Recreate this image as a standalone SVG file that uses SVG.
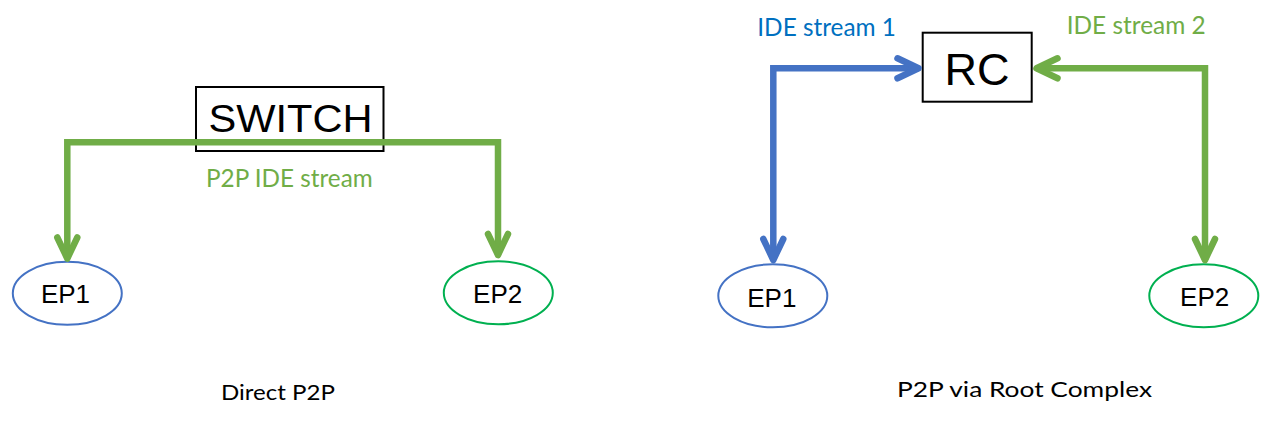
<svg xmlns="http://www.w3.org/2000/svg" width="1265" height="421" viewBox="0 0 1265 421">
<style>
.box{fill:#fff;stroke:#000;stroke-width:2}
.ep{fill:#fff;stroke-width:2}
.lbl{font-family:"Liberation Sans",Arial,sans-serif;fill:#000;text-anchor:middle}
.cap{font-family:Lato,"Open Sans",sans-serif}
.conn{fill:none;stroke-width:6.5;stroke-linejoin:miter}
.green{stroke:#70AD47}
.blue{stroke:#4472C4}
</style>
<defs>
<marker id="ag" markerUnits="userSpaceOnUse" orient="auto-start-reverse" refX="0" refY="0" markerWidth="40" markerHeight="40" overflow="visible">
<path d="M -21 -10 L 0 0 L -21 10" fill="none" stroke="#70AD47" stroke-width="6.5" stroke-linecap="round" stroke-linejoin="round"/>
</marker>
<marker id="ab" markerUnits="userSpaceOnUse" orient="auto-start-reverse" refX="0" refY="0" markerWidth="40" markerHeight="40" overflow="visible">
<path d="M -21 -10 L 0 0 L -21 10" fill="none" stroke="#4472C4" stroke-width="6.5" stroke-linecap="round" stroke-linejoin="round"/>
</marker>
</defs>
<rect width="1265" height="421" fill="#fff"/>

<g id="switch">
<rect class="box" x="196" y="87" width="187.5" height="64"/>
<text class="lbl" x="290.5" y="132" font-size="38" textLength="164" lengthAdjust="spacingAndGlyphs">SWITCH</text>
</g>
<g id="ep1-left">
<ellipse class="ep" cx="67.3" cy="293.3" rx="54.5" ry="31.5" stroke="#4472C4"/>
<text class="lbl" x="65.5" y="303" font-size="26">EP1</text>
</g>
<g id="ep2-left">
<ellipse class="ep" cx="498.3" cy="292.8" rx="54.5" ry="31.5" stroke="#00B050"/>
<text class="lbl" x="497.7" y="303.3" font-size="26">EP2</text>
</g>
<g id="rc">
<rect class="box" x="922.7" y="32.7" width="109" height="69"/>
<text class="lbl" x="977" y="85" font-size="45">RC</text>
</g>
<g id="ep1-right">
<ellipse class="ep" cx="772.8" cy="295.8" rx="54.5" ry="31.5" stroke="#4472C4"/>
<text class="lbl" x="771.8" y="307.3" font-size="26">EP1</text>
</g>
<g id="ep2-right">
<ellipse class="ep" cx="1203.8" cy="295.8" rx="54.5" ry="31.5" stroke="#00B050"/>
<text class="lbl" x="1204.7" y="306" font-size="26">EP2</text>
</g>

<g id="connectors">
<path class="conn green" d="M 67.3 258.5 L 67.3 142.3 L 498 142.3 L 498 255" marker-start="url(#ag)" marker-end="url(#ag)"/>
<path class="conn blue" d="M 773.3 260 L 773.3 68.3 L 918.5 68.3" marker-start="url(#ab)" marker-end="url(#ab)"/>
<path class="conn green" d="M 1205 260 L 1205 68.3 L 1036.5 68.3" marker-start="url(#ag)" marker-end="url(#ag)"/>
</g>

<g id="labels">
<text class="cap" x="206" y="186.7" font-size="25" fill="#70AD47" textLength="166.7" lengthAdjust="spacingAndGlyphs">P2P IDE stream</text>
<text class="cap" x="757.3" y="36" font-size="25" fill="#0070C0" textLength="138.7" lengthAdjust="spacingAndGlyphs">IDE stream 1</text>
<text class="cap" x="1066.7" y="34" font-size="25" fill="#70AD47" textLength="139" lengthAdjust="spacingAndGlyphs">IDE stream 2</text>
<text class="cap" x="221" y="400" font-size="21" fill="#000" textLength="114" lengthAdjust="spacingAndGlyphs">Direct P2P</text>
<text class="cap" x="897" y="397" font-size="21" fill="#000" textLength="255" lengthAdjust="spacingAndGlyphs">P2P via Root Complex</text>
</g>
</svg>
